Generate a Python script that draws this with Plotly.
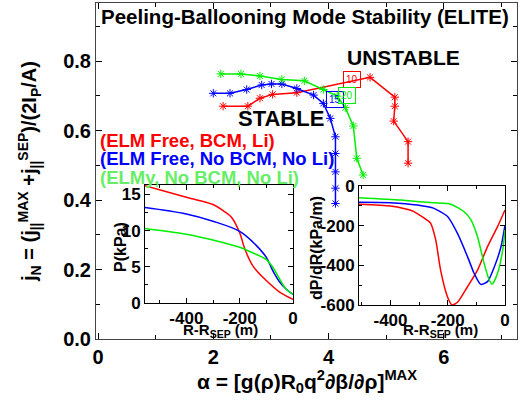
import plotly.graph_objects as go

# ---- main stability curves (alpha, j_N) ----
red_alpha = [2.17, 2.60, 2.81, 3.03, 3.45, 4.72, 5.15, 5.15, 5.13, 5.38, 5.38]
red_jn    = [0.670, 0.670, 0.693, 0.704, 0.709, 0.753, 0.696, 0.670, 0.627, 0.568, 0.506]

blue_alpha = [2.00, 2.29, 2.58, 2.84, 3.01, 3.19, 3.45, 3.74, 3.91, 4.03, 4.12, 4.12, 4.12, 4.12, 4.12]
blue_jn    = [0.707, 0.707, 0.718, 0.731, 0.734, 0.734, 0.721, 0.702, 0.678, 0.635, 0.582, 0.534, 0.481, 0.434, 0.390]

green_alpha = [2.13, 2.48, 2.81, 3.19, 3.58, 3.91, 4.15, 4.29, 4.43, 4.49, 4.60]
green_jn    = [0.763, 0.763, 0.757, 0.747, 0.743, 0.718, 0.699, 0.666, 0.613, 0.520, 0.472]

# ---- inset 1: pressure profiles ----
p_r_red   = [-555, -400, -300, -260, -230, -200, -180, -150, -100, -50, 0]
p_red     = [16.2, 14.6, 13.6, 12.7, 11.8, 9.7, 7.4, 5.1, 3.1, 1.5, 0.5]
p_r_blue  = [-555, -400, -300, -200, -150, -100, -75, -50, -25, 0]
p_blue    = [13.2, 12.3, 11.3, 9.9, 8.4, 6.3, 4.4, 2.9, 1.9, 1.2]
p_r_green = [-555, -400, -300, -200, -150, -100, -75, -50, -25, 0]
p_green   = [10.3, 9.5, 8.7, 7.7, 6.9, 6.0, 4.9, 3.3, 1.9, 1.2]

# ---- inset 2: pressure gradient profiles ----
d_r_red   = [-510, -400, -350, -318, -265, -260, -242, -225, -201, -185, -165, -131, -96, -61, -26, 0]
d_red     = [-92, -101, -115, -129, -180, -187, -272, -424, -558, -600, -585, -508, -424, -306, -205, -121]
d_r_blue  = [-510, -400, -306, -248, -200, -166, -131, -108, -85, -61, -37, -14, 0]
d_blue    = [-82, -84, -96, -113, -155, -239, -356, -440, -496, -482, -407, -306, -197]
d_r_green = [-510, -364, -250, -189, -143, -119, -96, -73, -55, -45, -26, -8, 0]
d_green   = [-59, -71, -85, -92, -130, -171, -256, -390, -474, -496, -440, -323, -222]

main_xticks = [0, 2, 4, 6]
main_yticks = [0.0, 0.2, 0.4, 0.6, 0.8]
p_yticks = [0, 5, 10, 15]
d_yticks = [-600, -400, -200, 0]
r_ticks = [-400, -200, 0]

legend_labels = ["(ELM Free, BCM, Li)", "(ELM Free, No BCM, No Li)", "(ELMy, No BCM, No Li)"]
box_labels = ["10", "15", "20"]

RED, BLUE, GREEN, LGREEN = "#ff0000", "#0000ff", "#00ee00", "#66ee66"
FONT = "Liberation Sans, Arial, sans-serif"
W, H = 521, 400

fig = go.Figure()
mk = dict(symbol="asterisk-open", size=7)
for x, y, c in [(red_alpha, red_jn, RED), (blue_alpha, blue_jn, BLUE), (green_alpha, green_jn, GREEN)]:
    fig.add_trace(go.Scatter(x=x, y=y, mode="lines+markers", line=dict(color=c, width=1.5),
                             marker=dict(color=c, line=dict(color=c, width=1), **mk),
                             xaxis="x", yaxis="y", showlegend=False, hoverinfo="skip"))
for x, y, c in [(p_r_red, p_red, RED), (p_r_blue, p_blue, BLUE), (p_r_green, p_green, GREEN)]:
    fig.add_trace(go.Scatter(x=x, y=y, mode="lines", line=dict(color=c, width=1.5, shape="spline"),
                             xaxis="x2", yaxis="y2", showlegend=False, hoverinfo="skip"))
for x, y, c in [(d_r_red, d_red, RED), (d_r_blue, d_blue, BLUE), (d_r_green, d_green, GREEN)]:
    fig.add_trace(go.Scatter(x=x, y=y, mode="lines", line=dict(color=c, width=1.5, shape="spline", smoothing=0.6),
                             xaxis="x3", yaxis="y3", showlegend=False, hoverinfo="skip"))

tickf = dict(family=FONT, size=20, color="black", weight="bold")
smallf = dict(family=FONT, size=17, color="black", weight="bold")

def frame(**kw):
    d = dict(showline=True, mirror="ticks", linecolor="black", linewidth=1, ticks="inside",
             ticklen=6, tickcolor="black", showgrid=False, zeroline=False, automargin=False,
             minor=dict(ticks="inside", ticklen=3, tickcolor="black"))
    d.update(kw)
    return d

def lab(v):
    return [str(t) for t in v]

def dx(a, b):
    return [a / W, b / W]

def dy(top, bottom):
    return [1 - bottom / H, 1 - top / H]

fig.update_layout(
    width=W, height=H, margin=dict(l=0, r=0, t=0, b=0, autoexpand=False),
    paper_bgcolor="white", plot_bgcolor="white",
    xaxis=frame(domain=dx(96, 517), range=[-0.035, 7.27], tickvals=main_xticks,
                ticktext=lab(main_xticks), tickfont=tickf, linecolor="#444",
                minor=dict(ticks="inside", ticklen=4, tickcolor="black", dtick=1, tick0=0)),
    yaxis=frame(domain=dy(3, 339), range=[0, 0.967], tickvals=main_yticks,
                ticktext=["%.1f" % v for v in main_yticks], tickfont=tickf, linecolor="#444",
                minor=dict(ticks="inside", ticklen=4, tickcolor="black", dtick=0.1, tick0=0)),
    xaxis2=frame(domain=dx(145, 293), range=[-555, 0], anchor="y2", tickvals=r_ticks,
                 ticktext=lab(r_ticks), tickfont=smallf, ticklen=5,
                 minor=dict(ticks="inside", ticklen=3, tickcolor="black", dtick=100)),
    yaxis2=frame(domain=dy(185, 303), range=[0, 16.3], anchor="x2", tickvals=p_yticks,
                 ticktext=lab(p_yticks), tickfont=smallf, ticklen=5,
                 minor=dict(ticks="inside", ticklen=3, tickcolor="black", dtick=2.5)),
    xaxis3=frame(domain=dx(359, 505), range=[-510, 0], anchor="y3", tickvals=r_ticks,
                 ticktext=lab(r_ticks), tickfont=smallf, ticklen=5,
                 minor=dict(ticks="inside", ticklen=3, tickcolor="black", dtick=100)),
    yaxis3=frame(domain=dy(186, 305), range=[-600, 0], anchor="x3", tickvals=d_yticks,
                 ticktext=lab(d_yticks), tickfont=smallf, ticklen=5,
                 minor=dict(ticks="inside", ticklen=3, tickcolor="black", dtick=100)),
    hovermode=False,
)

# inset white backgrounds
for (a, b), (t, btm) in [((145, 293), (185, 303)), ((359, 505), (186, 305))]:
    fig.add_shape(type="rect", xref="paper", yref="paper", x0=a / W, x1=b / W, y0=1 - btm / H, y1=1 - t / H,
                  fillcolor="white", line=dict(width=0), layer="below")

def px(x, y, text, size, color="black", angle=0, xanchor="center", bold=True):
    return dict(text=text, xref="paper", yref="paper", x=x / W, y=1 - y / H, showarrow=False,
                xanchor=xanchor, yanchor="middle", textangle=angle,
                font=dict(family=FONT, size=size, color=color, weight="bold" if bold else "normal"))

ann = []
ann.append(px(305, 16, "Peeling-Ballooning Mode Stability (ELITE)", 20.5))
ann.append(px(30, 172, "j<sub>N</sub> = (j<sub>||</sub><sup>MAX</sup> +j<sub>||</sub><sup>SEP</sup>)/(2I<sub>P</sub>/A)", 20, angle=-90))
ann.append(px(307, 381, "α = [g(ρ)R<sub>0</sub>q<sup>2</sup>∂β/∂ρ]<sup>MAX</sup>", 21))
ann.append(px(120, 247, "P(kPa)", 16, angle=-90))
ann.append(px(316, 248, "dP/dR(kPa/m)", 16, angle=-90))
ann.append(px(220, 330, "R-R<sub>SEP</sub> (m)", 15))
ann.append(px(440, 330, "R-R<sub>SEP</sub> (m)", 15))
ann.append(dict(text="UNSTABLE", xref="x", yref="y", x=5.3, y=(339 - 57) / 347.5, showarrow=False,
                font=dict(family=FONT, size=21, color="black", weight="bold")))
ann.append(dict(text="STABLE", xref="x", yref="y", x=3.18, y=(339 - 118) / 347.5, showarrow=False,
                font=dict(family=FONT, size=22, color="black", weight="bold")))
for i, (t, c) in enumerate(zip(legend_labels, [RED, BLUE, LGREEN])):
    ann.append(px(98, 140 + 18.5 * i, t, 18.5, color=c, xanchor="left"))
for t, c, xa, ya in zip(box_labels, [RED, BLUE, GREEN], [4.41, 4.12, 4.32], [0.747, 0.688, 0.701]):
    ann.append(dict(text=t, xref="x", yref="y", x=xa, y=ya, showarrow=False,
                    font=dict(family=FONT, size=10, color=c), bordercolor=c, borderwidth=1,
                    borderpad=2, bgcolor="rgba(255,255,255,0)"))
fig.update_layout(annotations=ann)

fig.write_html("out.html", config={"displayModeBar": False},
               post_script="document.body.style.margin='0px';")
